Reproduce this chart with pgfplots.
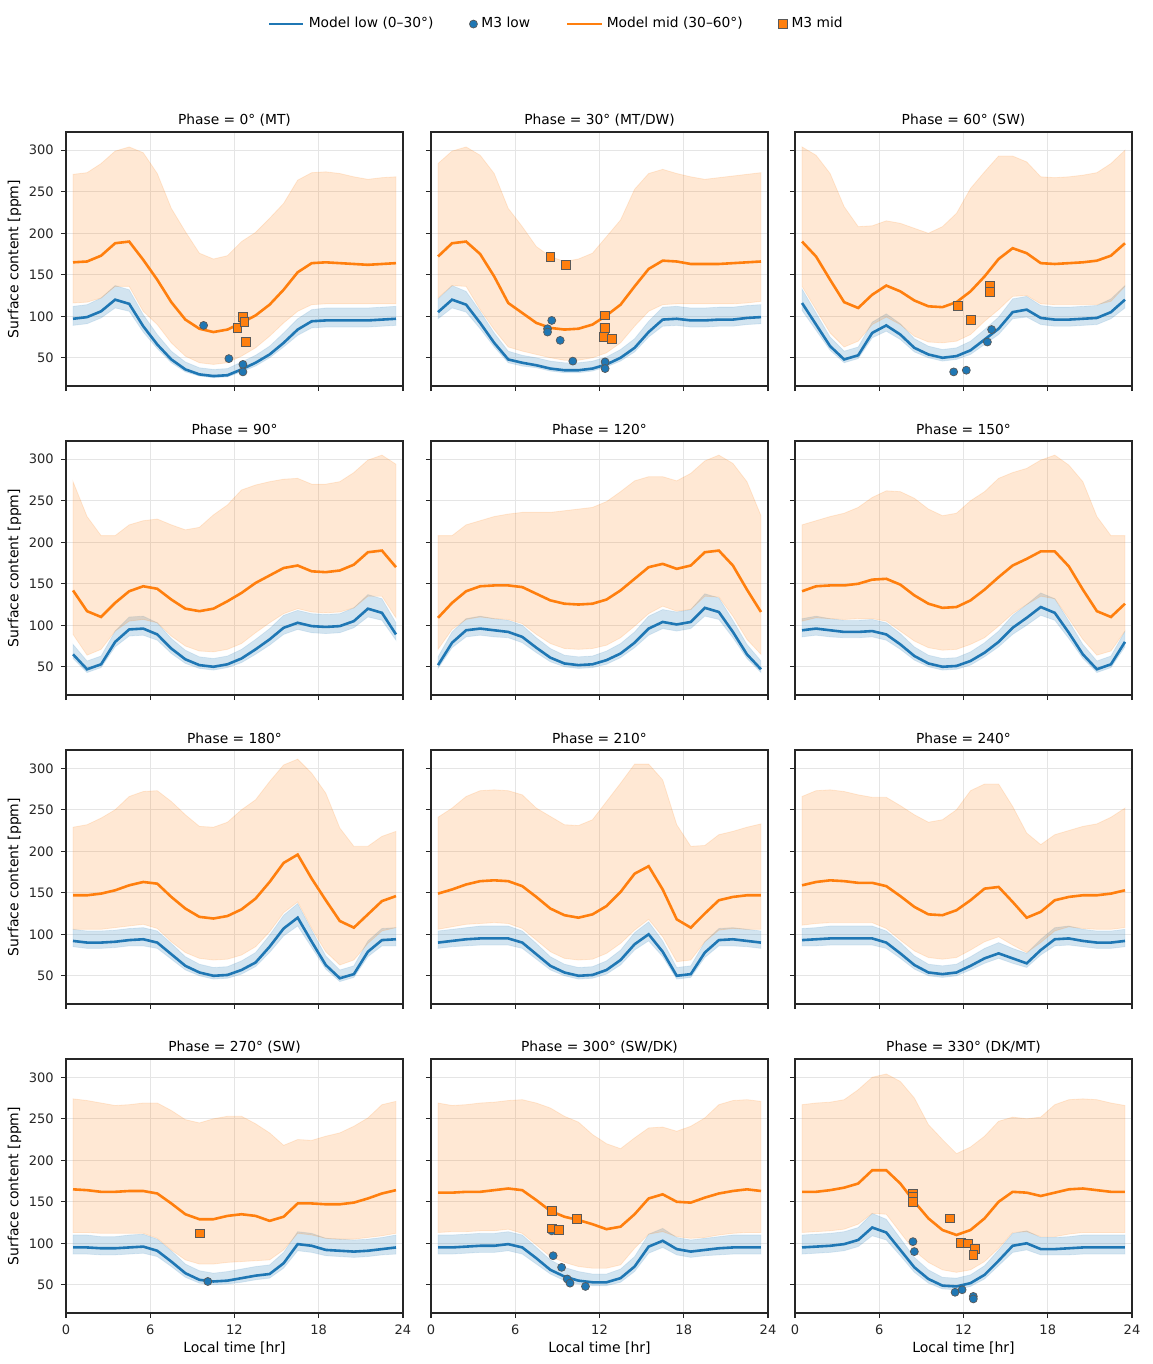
\documentclass[border=0pt]{standalone}
\usepackage{fontspec}
\setmainfont{DejaVu Sans}
\usepackage{pgfplots}
\pgfplotsset{compat=1.18}
\usepackage{pgfplotstable}
\usepgfplotslibrary{fillbetween}
\definecolor{c0}{HTML}{1F77B4}
\definecolor{c1}{HTML}{FF7F0E}

\pgfplotstableread{
t low lolo lohi mid midlo midhi
0.5 97 89 112 165 116 271
1.5 99 91 114 166 117 273
2.5 106 98 122 173 122 284
3.5 120 110 137 188 136 299
4.5 115 106 132 190 136 304
5.5 88 81 102 168 106 297
6.5 66 61 78 144 90 272
7.5 48 44 58 117 68 230
8.5 36 33 45 96 52 202
9.5 30 28 38 85 44 176
10.5 28 26 36 81 42 169
11.5 29 27 37 84 44 173
12.5 36 33 45 92 52 190
13.5 44 40 53 101 62 201
14.5 54 50 64 114 76 218
15.5 68 63 80 132 92 236
16.5 84 77 97 153 106 264
17.5 94 86 108 164 114 273
18.5 95 87 110 165 115 274
19.5 95 87 110 164 115 272
20.5 95 87 110 163 115 268
21.5 95 87 110 162 115 265
22.5 96 88 111 163 115 267
23.5 97 89 112 164 115 268
}\tA
\pgfplotstableread{
t low lolo lohi mid midlo midhi
0.5 105 97 121 172 122 284
1.5 120 110 137 188 137 299
2.5 114 105 130 190 136 304
3.5 92 85 106 175 108 294
4.5 68 63 80 148 84 272
5.5 48 44 58 116 63 230
6.5 44 40 53 104 58 208
7.5 41 38 50 92 54 184
8.5 37 34 46 86 50 172
9.5 35 32 44 84 47 166
10.5 35 32 44 85 47 169
11.5 37 34 46 90 50 176
12.5 42 39 51 101 56 196
13.5 50 46 60 114 68 216
14.5 62 57 73 136 88 253
15.5 81 75 94 157 106 272
16.5 96 88 111 167 114 277
17.5 97 89 112 166 115 272
18.5 95 87 110 163 115 268
19.5 95 87 110 163 115 265
20.5 96 88 111 163 115 267
21.5 96 88 111 164 115 269
22.5 98 90 113 165 116 271
23.5 99 91 114 166 118 273
}\tB
\pgfplotstableread{
t low lolo lohi mid midlo midhi
0.5 116 107 133 190 136 304
1.5 90 83 104 172 108 294
2.5 64 59 75 144 80 272
3.5 48 44 58 117 63 232
4.5 53 49 63 110 70 208
5.5 80 74 93 126 90 209
6.5 89 82 103 137 99 215
7.5 78 72 91 130 90 212
8.5 62 57 73 119 76 206
9.5 54 50 64 112 69 200
10.5 50 46 60 111 68 208
11.5 52 48 62 117 70 224
12.5 59 54 70 130 78 254
13.5 72 66 84 148 94 274
14.5 85 78 99 169 108 293
15.5 105 97 121 182 124 293
16.5 108 99 124 176 125 286
17.5 98 90 113 164 115 268
18.5 96 88 111 163 114 267
19.5 96 88 111 164 114 268
20.5 97 89 112 165 114 270
21.5 98 90 113 167 114 273
22.5 105 97 121 173 118 284
23.5 120 110 137 188 136 300
}\tC
\pgfplotstableread{
t low lolo lohi mid midlo midhi
0.5 65 60 77 142 89 273
1.5 47 43 57 117 64 231
2.5 53 49 63 110 71 208
3.5 80 74 93 127 93 208
4.5 95 87 110 141 105 221
5.5 96 88 111 147 107 226
6.5 89 82 103 144 103 228
7.5 72 66 84 131 87 221
8.5 59 54 70 120 75 215
9.5 52 48 62 117 69 218
10.5 50 46 60 120 68 233
11.5 53 49 63 129 71 245
12.5 60 55 71 139 78 263
13.5 71 65 83 151 91 269
14.5 83 76 96 160 103 273
15.5 97 89 112 169 114 276
16.5 103 95 118 172 120 277
17.5 99 91 114 165 116 270
18.5 98 90 113 164 115 270
19.5 99 91 114 166 116 273
20.5 105 97 121 173 121 284
21.5 120 110 137 188 135 299
22.5 115 106 132 190 135 305
23.5 89 82 103 170 109 294
}\tD
\pgfplotstableread{
t low lolo lohi mid midlo midhi
0.5 52 48 62 109 71 208
1.5 79 73 92 127 95 208
2.5 94 86 108 141 107 221
3.5 96 88 111 147 110 226
4.5 94 86 108 148 108 231
5.5 92 85 106 148 107 234
6.5 86 79 100 146 102 236
7.5 73 67 85 138 89 236
8.5 61 56 72 130 78 236
9.5 54 50 64 126 72 238
10.5 52 48 62 125 71 240
11.5 53 49 63 126 72 242
12.5 58 53 69 131 76 249
13.5 66 61 78 142 85 261
14.5 79 73 92 156 99 274
15.5 96 88 111 170 114 279
16.5 104 96 119 174 123 279
17.5 101 93 116 168 117 274
18.5 104 96 119 172 119 283
19.5 121 111 138 188 135 298
20.5 116 107 133 190 134 305
21.5 92 85 106 172 111 295
22.5 65 60 77 143 83 273
23.5 47 43 57 116 65 232
}\tE
\pgfplotstableread{
t low lolo lohi mid midlo midhi
0.5 94 86 108 141 105 221
1.5 96 88 111 147 109 226
2.5 94 86 108 148 108 231
3.5 92 85 106 148 107 235
4.5 92 85 106 150 108 242
5.5 93 86 107 155 108 254
6.5 89 82 103 156 105 262
7.5 77 71 90 149 93 261
8.5 63 58 74 136 81 253
9.5 54 50 64 126 73 240
10.5 50 46 60 121 70 232
11.5 51 47 61 122 71 235
12.5 57 52 68 130 77 250
13.5 67 62 79 143 85 261
14.5 80 74 93 158 99 277
15.5 97 89 112 172 114 284
16.5 109 100 125 180 125 289
17.5 122 112 139 189 135 299
18.5 115 106 132 189 132 305
19.5 91 84 105 171 108 293
20.5 65 60 77 143 83 273
21.5 47 43 57 117 64 231
22.5 53 49 63 110 69 208
23.5 80 74 93 126 93 208
}\tF
\pgfplotstableread{
t low lolo lohi mid midlo midhi
0.5 92 85 106 147 106 229
1.5 90 83 104 147 106 232
2.5 90 83 104 149 106 240
3.5 91 84 105 153 108 250
4.5 93 86 107 159 110 266
5.5 94 86 108 163 112 272
6.5 90 83 104 161 107 273
7.5 76 70 89 145 91 260
8.5 62 57 73 131 78 244
9.5 54 50 64 121 71 230
10.5 50 46 60 119 69 229
11.5 51 47 61 122 70 235
12.5 57 52 68 130 75 250
13.5 66 61 78 143 85 262
14.5 85 78 99 163 103 284
15.5 107 98 123 186 126 304
16.5 120 110 137 196 139 311
17.5 91 84 105 167 107 294
18.5 63 58 74 141 79 270
19.5 47 43 57 116 63 228
20.5 52 48 62 108 69 206
21.5 79 73 92 124 89 206
22.5 93 86 107 140 104 218
23.5 94 86 108 146 108 224
}\tG
\pgfplotstableread{
t low lolo lohi mid midlo midhi
0.5 90 83 104 149 106 241
1.5 92 85 106 154 109 252
2.5 94 86 108 160 112 266
3.5 95 87 110 164 113 273
4.5 95 87 110 165 114 274
5.5 95 87 110 164 113 273
6.5 90 83 104 158 107 268
7.5 76 70 89 145 93 252
8.5 62 57 73 131 79 242
9.5 54 50 64 123 71 232
10.5 50 46 60 120 69 231
11.5 51 47 61 124 70 238
12.5 57 52 68 134 77 260
13.5 69 63 81 151 89 282
14.5 88 81 102 173 105 305
15.5 100 92 115 182 118 305
16.5 79 73 92 154 97 286
17.5 50 46 60 118 67 232
18.5 52 48 62 108 69 206
19.5 78 72 91 125 91 207
20.5 93 86 107 141 105 220
21.5 94 86 108 145 107 224
22.5 92 85 106 147 106 229
23.5 90 83 104 147 106 233
}\tH
\pgfplotstableread{
t low lolo lohi mid midlo midhi
0.5 93 86 107 159 111 266
1.5 94 86 108 163 113 273
2.5 95 87 110 165 114 274
3.5 95 87 110 164 114 272
4.5 95 87 110 162 114 268
5.5 95 87 110 162 114 265
6.5 90 83 104 158 107 265
7.5 77 71 90 146 93 255
8.5 63 58 74 133 80 244
9.5 54 50 64 124 72 235
10.5 52 48 62 123 70 238
11.5 54 50 64 129 72 250
12.5 62 57 73 141 81 273
13.5 71 65 83 155 91 281
14.5 77 71 90 157 97 281
15.5 71 65 83 139 87 254
16.5 65 60 77 120 78 222
17.5 81 75 94 127 90 208
18.5 94 86 108 141 104 220
19.5 95 87 110 145 109 225
20.5 92 85 106 147 107 230
21.5 90 83 104 147 106 233
22.5 90 83 104 149 106 241
23.5 92 85 106 153 108 252
}\tI
\pgfplotstableread{
t low lolo lohi mid midlo midhi
0.5 95 87 110 165 113 274
1.5 95 87 110 164 113 272
2.5 94 86 108 162 112 269
3.5 94 86 108 162 112 266
4.5 95 87 110 163 112 267
5.5 96 88 111 163 112 269
6.5 91 84 105 160 106 269
7.5 78 72 91 148 92 260
8.5 64 59 75 135 80 249
9.5 56 52 67 129 75 245
10.5 54 50 64 129 75 250
11.5 55 51 66 133 77 253
12.5 58 53 69 135 78 253
13.5 61 56 72 133 79 244
14.5 63 58 74 127 80 233
15.5 76 70 89 132 92 218
16.5 99 91 114 148 112 225
17.5 97 89 112 148 110 224
18.5 92 85 106 147 106 229
19.5 91 84 105 147 105 233
20.5 90 83 104 149 105 241
21.5 91 84 105 154 107 251
22.5 93 86 107 160 109 267
23.5 95 87 110 164 112 271
}\tJ
\pgfplotstableread{
t low lolo lohi mid midlo midhi
0.5 95 87 110 161 113 269
1.5 95 87 110 161 114 266
2.5 96 88 111 162 114 267
3.5 97 89 112 162 115 269
4.5 97 89 112 164 115 270
5.5 99 91 114 166 117 272
6.5 95 87 110 164 112 273
7.5 82 75 95 152 98 269
8.5 68 63 80 139 84 263
9.5 60 55 71 132 77 253
10.5 55 51 66 128 72 246
11.5 53 49 63 123 70 231
12.5 53 49 63 117 70 220
13.5 58 53 69 120 74 214
14.5 72 66 84 135 94 227
15.5 96 88 111 154 111 239
16.5 103 95 118 159 114 240
17.5 93 86 107 150 108 235
18.5 90 83 104 149 106 241
19.5 92 85 106 155 107 251
20.5 94 86 108 160 110 267
21.5 95 87 110 163 112 272
22.5 95 87 110 165 113 273
23.5 95 87 110 163 113 271
}\tK
\pgfplotstableread{
t low lolo lohi mid midlo midhi
0.5 95 87 110 162 113 267
1.5 96 88 111 162 114 269
2.5 97 89 112 164 115 270
3.5 99 91 114 167 117 273
4.5 104 96 119 172 123 285
5.5 119 109 136 188 136 300
6.5 113 104 129 188 135 304
7.5 92 85 106 172 113 295
8.5 71 65 83 150 91 275
9.5 57 52 68 130 77 243
10.5 49 45 59 116 68 225
11.5 48 44 58 110 65 208
12.5 52 48 62 116 68 216
13.5 62 57 73 130 78 229
14.5 79 73 92 150 94 247
15.5 97 89 112 162 113 252
16.5 100 92 115 161 114 250
17.5 93 86 107 157 108 252
18.5 93 86 107 161 108 267
19.5 94 86 108 165 111 273
20.5 95 87 110 166 113 274
21.5 95 87 110 164 113 273
22.5 95 87 110 162 113 269
23.5 95 87 110 162 113 266
}\tL

\pgfplotsset{
  panel/.style={scale only axis, width=168.5pt, height=127pt,
    xmin=0, xmax=24, ymin=16, ymax=322,
    xtick={0,6,12,18,24}, ytick={50,100,150,200,250,300},
    tick align=outside, major tick length=2.6pt,
    xtick pos=left, ytick pos=left,
    grid=major, grid style={black!10, line width=0.4pt},
    axis line style={black!85, line width=0.7pt},
    tick style={black!85, line width=0.6pt},
    tick label style={font=\fontsize{6.5}{7.5}\selectfont, text=black!85},
    /pgf/number format/assume math mode=true,
    every axis title shift=-0.5pt,
    title style={font=\fontsize{6.9}{8}\selectfont},
    label style={font=\fontsize{7}{8}\selectfont},
    xlabel style={yshift=3.5pt},
    ylabel style={yshift=-3pt},
    anchor=north west},
  nox/.style={xticklabels={}},
  noy/.style={yticklabels={}},
  ylab/.style={ylabel={Surface content [ppm]}},
  xlab/.style={xlabel={Local time [hr]}},
}

\newcommand\bands[1]{%
  \addplot[name path=lh, draw=none, forget plot] table[x=t,y=lohi]{#1};
  \addplot[name path=ll, draw=none, forget plot] table[x=t,y=lolo]{#1};
  \addplot[fill=c0, fill opacity=0.2, draw=c0, draw opacity=0.12, forget plot] fill between[of=lh and ll];
  \addplot[name path=mh, draw=none, forget plot] table[x=t,y=midhi]{#1};
  \addplot[name path=ml, draw=none, forget plot] table[x=t,y=midlo]{#1};
  \addplot[fill=c1, fill opacity=0.18, draw=c1, draw opacity=0.15, forget plot] fill between[of=mh and ml];
  \addplot[c0, line width=1.3pt, forget plot] table[x=t,y=low]{#1};
  \addplot[c1, line width=1.3pt, forget plot] table[x=t,y=mid]{#1};
}
\newcommand\mlow[1]{\addplot[only marks, mark=*, mark size=2pt, mark options={fill=c0, draw=black!65, line width=0.35pt}, forget plot] coordinates {#1};}
\newcommand\mmid[1]{\addplot[only marks, mark=square*, mark size=2.2pt, mark options={fill=c1, draw=black!65, line width=0.35pt}, forget plot] coordinates {#1};}

\begin{document}
\begin{tikzpicture}

% Row 1
\begin{axis}[panel, nox, ylab, at={(33pt,-66pt)}, title={Phase = 0° (MT)},
  legend style={at={(1.458,1.425)}, anchor=center, draw=none, fill=none,
    legend columns=4, font=\fontsize{6.9}{8}\selectfont,
    /tikz/every even column/.append style={column sep=16pt}}]
\addlegendimage{c0, line width=1.3pt}\addlegendentry{Model low (0–30°)}
\addlegendimage{only marks, mark=*, mark size=2pt, mark options={fill=c0, draw=black!65, line width=0.35pt}}\addlegendentry{M3 low}
\addlegendimage{c1, line width=1.3pt}\addlegendentry{Model mid (30–60°)}
\addlegendimage{only marks, mark=square*, mark size=2.2pt, mark options={fill=c1, draw=black!65, line width=0.35pt}}\addlegendentry{M3 mid}
\bands{\tA}
\mlow{(9.8,89) (11.6,49) (12.6,42) (12.6,33)}
\mmid{(12.2,86) (12.6,99) (12.7,93) (12.8,69)}
\end{axis}
\begin{axis}[panel, nox, noy, at={(215.5pt,-66pt)}, title={Phase = 30° (MT/DW)}]
\bands{\tB}
\mlow{(8.6,95) (8.3,85) (8.3,81) (9.2,71) (10.1,46) (12.4,45) (12.4,37)}
\mmid{(8.5,172) (9.6,162) (12.4,101) (12.4,86) (12.3,75) (12.9,73)}
\end{axis}
\begin{axis}[panel, nox, noy, at={(397.5pt,-66pt)}, title={Phase = 60° (SW)}]
\bands{\tC}
\mlow{(11.3,33) (12.2,35) (13.7,69) (14.0,84)}
\mmid{(11.6,113) (12.5,96) (13.9,137) (13.9,129)}
\end{axis}

% Row 2
\begin{axis}[panel, nox, ylab, at={(33pt,-220.5pt)}, title={Phase = 90°}]
\bands{\tD}
\end{axis}
\begin{axis}[panel, nox, noy, at={(215.5pt,-220.5pt)}, title={Phase = 120°}]
\bands{\tE}
\end{axis}
\begin{axis}[panel, nox, noy, at={(397.5pt,-220.5pt)}, title={Phase = 150°}]
\bands{\tF}
\end{axis}

% Row 3
\begin{axis}[panel, nox, ylab, at={(33pt,-375pt)}, title={Phase = 180°}]
\bands{\tG}
\end{axis}
\begin{axis}[panel, nox, noy, at={(215.5pt,-375pt)}, title={Phase = 210°}]
\bands{\tH}
\end{axis}
\begin{axis}[panel, nox, noy, at={(397.5pt,-375pt)}, title={Phase = 240°}]
\bands{\tI}
\end{axis}

% Row 4
\begin{axis}[panel, xlab, ylab, at={(33pt,-529.5pt)}, title={Phase = 270° (SW)}]
\bands{\tJ}
\mlow{(10.1,54)}
\mmid{(9.55,112)}
\end{axis}
\begin{axis}[panel, xlab, noy, at={(215.5pt,-529.5pt)}, title={Phase = 300° (SW/DK)}]
\bands{\tK}
\mlow{(8.6,115) (8.7,85) (9.3,71) (9.7,57) (9.9,52) (11.0,48)}
\mmid{(8.6,139) (10.4,129) (8.6,118) (9.1,116)}
\end{axis}
\begin{axis}[panel, xlab, noy, at={(397.5pt,-529.5pt)}, title={Phase = 330° (DK/MT)}]
\bands{\tL}
\mlow{(8.4,102) (8.5,90) (11.4,41) (11.9,44) (12.7,36) (12.7,33)}
\mmid{(8.4,160) (8.4,156) (8.4,150) (11.0,130) (11.8,101) (12.3,100) (12.8,93) (12.7,86)}
\end{axis}
\path (0,0) rectangle (576pt,-682pt);
\end{tikzpicture}
\end{document}
